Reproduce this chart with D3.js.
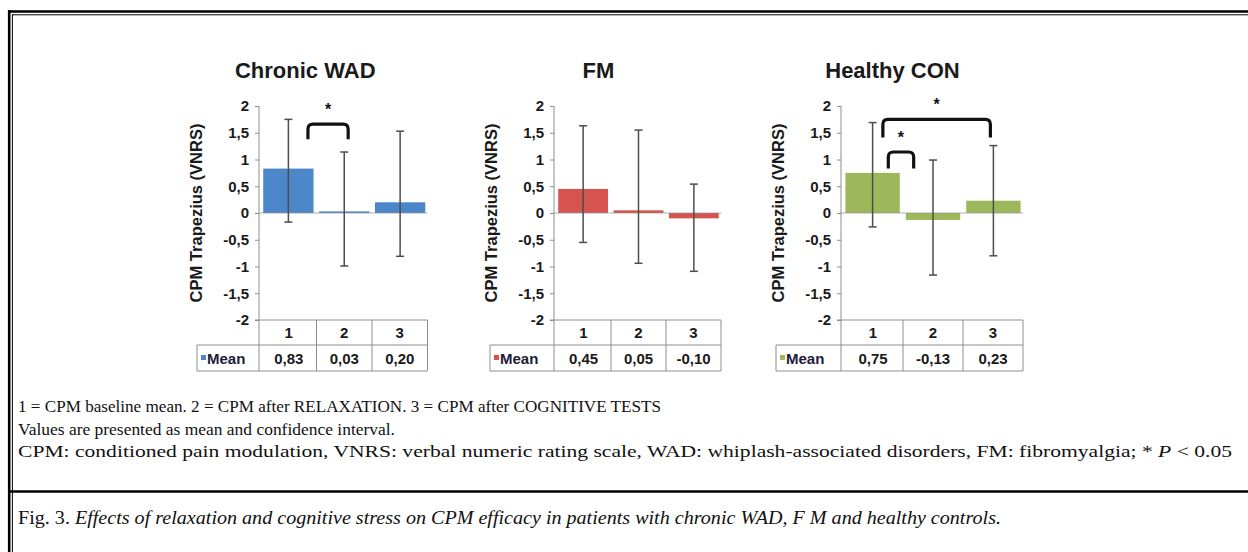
<!DOCTYPE html>
<html>
  <head>
    <meta charset="UTF-8" />
    <title>CPM efficacy</title>
    <script src="https://d3js.org/d3.v7.min.js"></script>
    <style>
      body { margin: 0; background: #fff; }
      .sans { font-family: "Liberation Sans", Arial, sans-serif; font-weight: bold; }
      .serif { font-family: "Liberation Serif", "Times New Roman", serif; }
    </style>
  </head>
  <body>
    <svg id="fig" width="1248" height="552"></svg>
    <script>
      // values
      const groups = ["Chronic WAD", "FM", "Healthy CON"];
      const conditions = ["1", "2", "3"];
      const yTicks = [2, 1.5, 1, 0.5, 0, -0.5, -1, -1.5, -2];

      const meanWAD = [0.83, 0.03, 0.2];
      const meanFM = [0.45, 0.05, -0.1];
      const meanCON = [0.75, -0.13, 0.23];

      const ciHighWAD = [1.75, 1.14, 1.53];
      const ciLowWAD = [-0.17, -0.99, -0.81];
      const ciHighFM = [1.63, 1.55, 0.54];
      const ciLowFM = [-0.55, -0.94, -1.09];
      const ciHighCON = [1.69, 0.99, 1.26];
      const ciLowCON = [-0.26, -1.16, -0.8];

      // significance brackets, x in condition units, y in VNRS units
      const sigWAD = [{ x0: 1.35, x1: 2.07, top: 1.66, leg: 1.38 }];
      const sigFM = [];
      const sigCON = [
        { x0: 1.26, x1: 1.68, top: 1.14, leg: 0.83 },
        { x0: 1.17, x1: 2.95, top: 1.75, leg: 1.41 },
      ];

      const noteLines = [
        "1 = CPM baseline mean. 2 = CPM after RELAXATION. 3 = CPM after COGNITIVE TESTS",
        "Values are presented as mean and confidence interval.",
      ];

      const series = [
        { mean: meanWAD, hi: ciHighWAD, lo: ciLowWAD, sig: sigWAD },
        { mean: meanFM, hi: ciHighFM, lo: ciLowFM, sig: sigFM },
        { mean: meanCON, hi: ciHighCON, lo: ciLowCON, sig: sigCON },
      ];

      const panels = [
        { axis: 259, bw: 55.5, meanLeft: 197, color: "#4a86c8" },
        { axis: 554, bw: 55, meanLeft: 490, color: "#d6544f" },
        { axis: 841, bw: 60, meanLeft: 776, color: "#9cb85a" },
      ];

      const locale = d3.formatLocale({
        decimal: ",",
        thousands: ".",
        grouping: [3],
        currency: ["", ""],
        minus: "-",
      });
      const fmtTick = locale.format("~g");
      const fmtMean = locale.format(".2f");

      const svg = d3.select("#fig");
      const y = d3.scaleLinear().domain([-2, 2]).range([320, 106]);
      const tableMid = 345;
      const tableBottom = 371;
      const grid = "#8e8e8e";

      groups.forEach((name, gi) => {
        const p = panels[gi];
        const s = series[gi];
        const g = svg.append("g");
        const x = d3
          .scaleBand()
          .domain(conditions)
          .range([p.axis + 2, p.axis + 2 + 3 * p.bw])
          .paddingInner(0.1)
          .paddingOuter(0.04);
        const xc = d3
          .scaleLinear()
          .domain([1, 3])
          .range([x("1") + x.bandwidth() / 2, x("3") + x.bandwidth() / 2]);
        const right = p.axis + 2 + 3 * p.bw;

        // title
        g.append("text")
          .attr("class", "sans")
          .attr("x", (p.meanLeft + right) / 2 - 7)
          .attr("y", 78)
          .attr("text-anchor", "middle")
          .attr("font-size", 22)
          .attr("fill", "#1a1a1a")
          .text(name);

        // y axis title
        g.append("text")
          .attr("class", "sans")
          .attr("transform", `translate(${p.axis - 57},${y(0)}) rotate(-90)`)
          .attr("text-anchor", "middle")
          .attr("font-size", 16.5)
          .attr("fill", "#1a1a1a")
          .text("CPM Trapezius (VNRS)");

        // y axis
        const ax = g
          .append("g")
          .attr("transform", `translate(${p.axis},0)`)
          .call(d3.axisLeft(y).tickValues(yTicks).tickSize(4).tickPadding(6).tickFormat(fmtTick));
        ax.select(".domain").remove();
        ax.selectAll(".tick line").attr("stroke", grid);
        ax.selectAll(".tick text")
          .attr("class", "sans")
          .attr("font-size", 15)
          .attr("fill", "#1a1a1a");
        g.append("line")
          .attr("x1", p.axis).attr("x2", p.axis)
          .attr("y1", y(2)).attr("y2", tableBottom)
          .attr("stroke", grid);

        // bars
        g.selectAll("rect.bar")
          .data(conditions)
          .join("rect")
          .attr("class", "bar")
          .attr("x", (c) => x(c))
          .attr("width", x.bandwidth())
          .attr("y", (c, i) => Math.min(y(s.mean[i]), y(0)))
          .attr("height", (c, i) => Math.max(1.5, Math.abs(y(s.mean[i]) - y(0))))
          .attr("fill", p.color);

        // zero line
        g.append("line")
          .attr("x1", p.axis).attr("x2", right)
          .attr("y1", y(0)).attr("y2", y(0))
          .attr("stroke", grid).attr("stroke-opacity", 0.7);

        // error bars
        conditions.forEach((c, i) => {
          const cx = x(c) + x.bandwidth() / 2;
          const eg = g.append("g").attr("stroke", "#4d4d4d").attr("stroke-width", 1.5);
          eg.append("line").attr("x1", cx).attr("x2", cx).attr("y1", y(s.hi[i])).attr("y2", y(s.lo[i]));
          [s.hi[i], s.lo[i]].forEach((v) => {
            eg.append("line").attr("x1", cx - 4).attr("x2", cx + 4).attr("y1", y(v)).attr("y2", y(v));
          });
        });

        // significance brackets
        s.sig.forEach((b) => {
          const x0 = xc(b.x0), x1 = xc(b.x1), yt = y(b.top), yl = y(b.leg), r = 5;
          g.append("path")
            .attr("d",
              `M${x0},${yl} L${x0},${yt + r} Q${x0},${yt} ${x0 + r},${yt} ` +
              `L${x1 - r},${yt} Q${x1},${yt} ${x1},${yt + r} L${x1},${yl}`)
            .attr("fill", "none")
            .attr("stroke", "#111")
            .attr("stroke-width", 3.2);
          g.append("text")
            .attr("class", "sans")
            .attr("x", (x0 + x1) / 2)
            .attr("y", yt - 9)
            .attr("text-anchor", "middle")
            .attr("font-size", 16)
            .attr("fill", "#111")
            .text("*");
        });

        // data table
        const tg = g.append("g").attr("stroke", grid).attr("stroke-width", 1);
        tg.append("line").attr("x1", p.axis - 4).attr("x2", right).attr("y1", y(-2)).attr("y2", y(-2));
        tg.append("line").attr("x1", p.meanLeft).attr("x2", right).attr("y1", tableMid).attr("y2", tableMid);
        tg.append("line").attr("x1", p.meanLeft).attr("x2", right).attr("y1", tableBottom).attr("y2", tableBottom);
        tg.append("line").attr("x1", p.meanLeft).attr("x2", p.meanLeft).attr("y1", tableMid).attr("y2", tableBottom);
        conditions.forEach((c, i) => {
          const xr = p.axis + 2 + (i + 1) * p.bw;
          tg.append("line").attr("x1", xr).attr("x2", xr).attr("y1", y(-2)).attr("y2", tableBottom);
        });
        conditions.forEach((c, i) => {
          const cx = p.axis + 2 + (i + 0.5) * p.bw;
          g.append("text")
            .attr("class", "sans")
            .attr("x", cx).attr("y", (y(-2) + tableMid) / 2 + 5.5)
            .attr("text-anchor", "middle").attr("font-size", 15).attr("fill", "#1a1a1a")
            .text(c);
          g.append("text")
            .attr("class", "sans")
            .attr("x", cx).attr("y", (tableMid + tableBottom) / 2 + 5.5)
            .attr("text-anchor", "middle").attr("font-size", 15).attr("fill", "#1a1a1a")
            .text(fmtMean(s.mean[i]));
        });
        g.append("rect")
          .attr("x", p.meanLeft + 4).attr("y", (tableMid + tableBottom) / 2 - 3)
          .attr("width", 5).attr("height", 5)
          .attr("fill", p.color);
        g.append("text")
          .attr("class", "sans")
          .attr("x", p.meanLeft + 10).attr("y", (tableMid + tableBottom) / 2 + 5.5)
          .attr("font-size", 15).attr("fill", "#1c2038")
          .text("Mean");
      });

      // notes, fitted to the widths of the printed lines
      const lineWidths = [643, 377, 1214];
      const notes = svg.append("g").attr("class", "serif").attr("fill", "#111").attr("font-size", 17.5);
      noteLines.forEach((t, i) => {
        notes.append("text").attr("x", 18).attr("y", 412 + i * 22.5)
          .attr("textLength", lineWidths[i]).attr("lengthAdjust", "spacingAndGlyphs")
          .text(t);
      });
      const l3 = notes.append("text").attr("x", 18).attr("y", 457)
        .attr("textLength", lineWidths[2]).attr("lengthAdjust", "spacingAndGlyphs");
      l3.append("tspan").text(
        "CPM: conditioned pain modulation, VNRS: verbal numeric rating scale, WAD: whiplash-associated disorders, FM: fibromyalgia; * ");
      l3.append("tspan").attr("font-style", "italic").text("P");
      l3.append("tspan").text(" < 0.05");

      const cap = svg.append("text").attr("class", "serif").attr("x", 18).attr("y", 524)
        .attr("font-size", 18).attr("fill", "#111")
        .attr("textLength", 983).attr("lengthAdjust", "spacingAndGlyphs");
      cap.append("tspan").text("Fig. 3. ");
      cap.append("tspan").attr("font-style", "italic")
        .text("Effects of  relaxation and cognitive stress on CPM efficacy in patients with chronic WAD, F M and healthy controls.");

      // frame
      const fr = svg.append("g").attr("stroke", "#000");
      fr.append("line").attr("x1", 9.2).attr("x2", 9.2).attr("y1", 10).attr("y2", 552).attr("stroke-width", 2.6);
      fr.append("line").attr("x1", 12.4).attr("x2", 12.4).attr("y1", 14.3).attr("y2", 552).attr("stroke-width", 1);
      fr.append("line").attr("x1", 8).attr("x2", 1248).attr("y1", 11.5).attr("y2", 11.5).attr("stroke-width", 2.6);
      fr.append("line").attr("x1", 12).attr("x2", 1248).attr("y1", 14.8).attr("y2", 14.8).attr("stroke-width", 1);
      fr.append("line").attr("x1", 9).attr("x2", 1248).attr("y1", 491.5).attr("y2", 491.5).attr("stroke-width", 2.6);
    </script>
  </body>
</html>
